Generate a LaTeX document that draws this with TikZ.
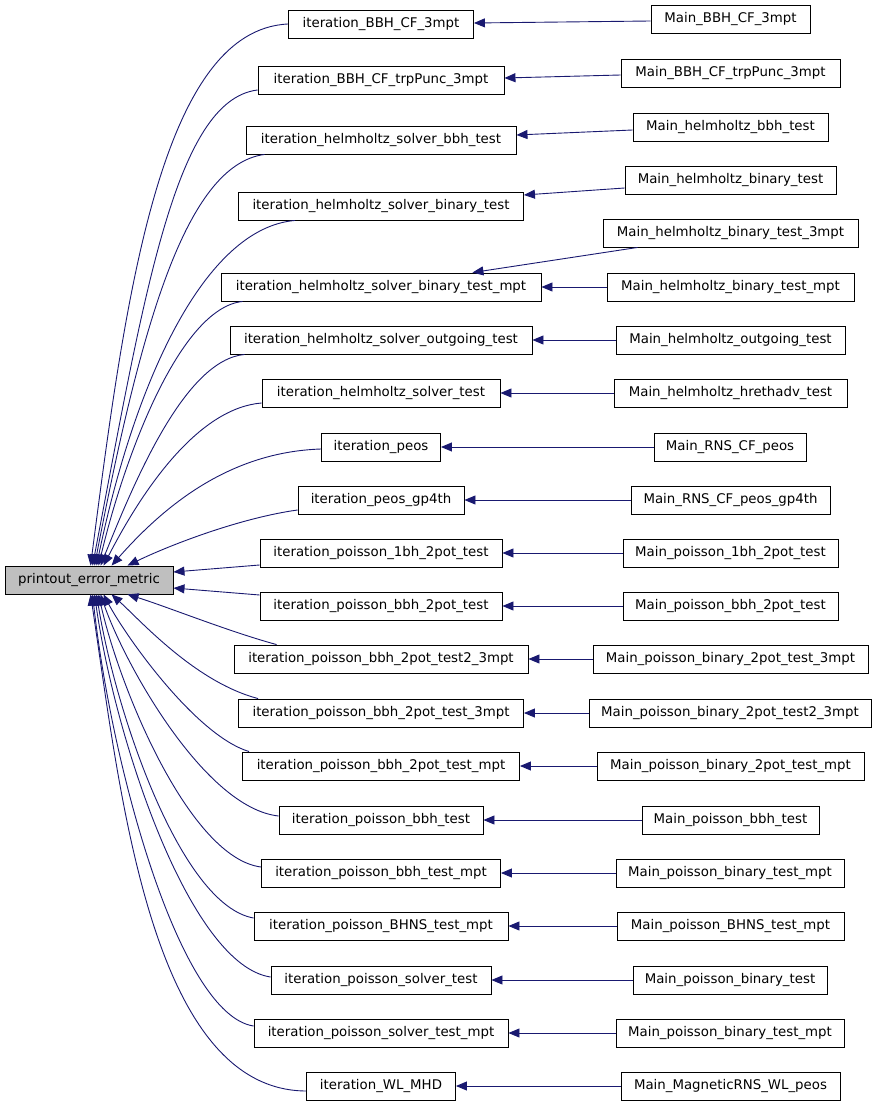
\documentclass[tikz,border=0pt]{standalone}
\usepackage{fontspec}
\setmainfont{DejaVu Sans}
\usetikzlibrary{arrows.meta}
\definecolor{edgeblue}{HTML}{191970}
\definecolor{focusgray}{HTML}{BFBFBF}
\tikzset{
  fn/.style={draw=black, line width=0.9pt, fill=white, inner sep=0pt, minimum height=28pt,
             font=\fontsize{13.33}{16}\selectfont, text=black, anchor=center},
  focus/.style={fn, fill=focusgray},
  edge/.style={draw=edgeblue, line width=0.9pt, -{Triangle[length=11pt,width=9pt]}},
}
\begin{document}
\begin{tikzpicture}[x=1pt,y=-1pt]
\useasboundingbox (0,0) rectangle (877,1107);
% focus node
\node[focus, minimum width=168pt] (p) at (89,580) {printout\_error\_metric};
% middle column
\node[fn, minimum width=185pt] (m1)  at (381,24)   {iteration\_BBH\_CF\_3mpt};
\node[fn, minimum width=246pt] (m2)  at (381,80)   {iteration\_BBH\_CF\_trpPunc\_3mpt};
\node[fn, minimum width=270pt] (m3)  at (381,140)  {iteration\_helmholtz\_solver\_bbh\_test};
\node[fn, minimum width=285pt] (m4)  at (381,206)  {iteration\_helmholtz\_solver\_binary\_test};
\node[fn, minimum width=320pt] (m5)  at (381,287)  {iteration\_helmholtz\_solver\_binary\_test\_mpt};
\node[fn, minimum width=302pt] (m6)  at (381,340)  {iteration\_helmholtz\_solver\_outgoing\_test};
\node[fn, minimum width=238pt] (m7)  at (381,393)  {iteration\_helmholtz\_solver\_test};
\node[fn, minimum width=119pt] (m8)  at (381,447)  {iteration\_peos};
\node[fn, minimum width=166pt] (m9)  at (381,500)  {iteration\_peos\_gp4th};
\node[fn, minimum width=242pt] (m10) at (381,553)  {iteration\_poisson\_1bh\_2pot\_test};
\node[fn, minimum width=242pt] (m11) at (381,606)  {iteration\_poisson\_bbh\_2pot\_test};
\node[fn, minimum width=294pt] (m12) at (381,659)  {iteration\_poisson\_bbh\_2pot\_test2\_3mpt};
\node[fn, minimum width=285pt] (m13) at (381,713)  {iteration\_poisson\_bbh\_2pot\_test\_3mpt};
\node[fn, minimum width=277pt] (m14) at (381,766)  {iteration\_poisson\_bbh\_2pot\_test\_mpt};
\node[fn, minimum width=204pt] (m15) at (381,820)  {iteration\_poisson\_bbh\_test};
\node[fn, minimum width=239pt] (m16) at (381,873)  {iteration\_poisson\_bbh\_test\_mpt};
\node[fn, minimum width=254pt] (m17) at (381,926)  {iteration\_poisson\_BHNS\_test\_mpt};
\node[fn, minimum width=220pt] (m18) at (381,980)  {iteration\_poisson\_solver\_test};
\node[fn, minimum width=254pt] (m19) at (381,1033) {iteration\_poisson\_solver\_test\_mpt};
\node[fn, minimum width=149pt] (m20) at (381,1086) {iteration\_WL\_MHD};
% right column
\node[fn, minimum width=159pt] (r1)  at (730.5,19)   {Main\_BBH\_CF\_3mpt};
\node[fn, minimum width=219pt] (r2)  at (730.5,73)   {Main\_BBH\_CF\_trpPunc\_3mpt};
\node[fn, minimum width=195pt] (r3)  at (730.5,127)  {Main\_helmholtz\_bbh\_test};
\node[fn, minimum width=211pt] (r4)  at (730.5,180)  {Main\_helmholtz\_binary\_test};
\node[fn, minimum width=255pt] (r5)  at (730.5,233)  {Main\_helmholtz\_binary\_test\_3mpt};
\node[fn, minimum width=247pt] (r6)  at (730.5,287)  {Main\_helmholtz\_binary\_test\_mpt};
\node[fn, minimum width=229pt] (r7)  at (730.5,340)  {Main\_helmholtz\_outgoing\_test};
\node[fn, minimum width=233pt] (r8)  at (730.5,393)  {Main\_helmholtz\_hrethadv\_test};
\node[fn, minimum width=152pt] (r9)  at (730,447)    {Main\_RNS\_CF\_peos};
\node[fn, minimum width=199pt] (r10) at (730.5,500)  {Main\_RNS\_CF\_peos\_gp4th};
\node[fn, minimum width=215pt] (r11) at (730.5,553)  {Main\_poisson\_1bh\_2pot\_test};
\node[fn, minimum width=215pt] (r12) at (730.5,606)  {Main\_poisson\_bbh\_2pot\_test};
\node[fn, minimum width=275pt] (r13) at (730.5,659)  {Main\_poisson\_binary\_2pot\_test\_3mpt};
\node[fn, minimum width=282pt] (r14) at (730,713)    {Main\_poisson\_binary\_2pot\_test2\_3mpt};
\node[fn, minimum width=267pt] (r15) at (730.5,766)  {Main\_poisson\_binary\_2pot\_test\_mpt};
\node[fn, minimum width=177pt] (r16) at (730.5,820)  {Main\_poisson\_bbh\_test};
\node[fn, minimum width=228pt] (r17) at (730,873)    {Main\_poisson\_binary\_test\_mpt};
\node[fn, minimum width=227pt] (r18) at (730.5,926)  {Main\_poisson\_BHNS\_test\_mpt};
\node[fn, minimum width=194pt] (r19) at (730,980)    {Main\_poisson\_binary\_test};
\node[fn, minimum width=228pt] (r20) at (730,1033)   {Main\_poisson\_binary\_test\_mpt};
\node[fn, minimum width=219pt] (r21) at (730.5,1086) {Main\_MagneticRNS\_WL\_peos};
% right edges
\draw[edge] ([yshift=-2pt]r1.west) -- ([yshift=1pt]m1.east);
\draw[edge] ([yshift=-2pt]r2.west) -- ([yshift=2pt]m2.east);
\draw[edge] ([yshift=-3pt]r3.west) -- ([yshift=5pt]m3.east);
\draw[edge] ([yshift=-8pt]r4.west) -- ([yshift=11pt]m4.east);
\draw[edge] ([xshift=35pt]r5.south west) -- ([xshift=-69pt]m5.north east);
\draw[edge] (r6) -- (m5);
\draw[edge] (r7) -- (m6);
\draw[edge] (r8) -- (m7);
\draw[edge] (r9) -- (m8);
\draw[edge] (r10) -- (m9);
\draw[edge] (r11) -- (m10);
\draw[edge] (r12) -- (m11);
\draw[edge] (r13) -- (m12);
\draw[edge] (r14) -- (m13);
\draw[edge] (r15) -- (m14);
\draw[edge] (r16) -- (m15);
\draw[edge] (r17) -- (m16);
\draw[edge] (r18) -- (m17);
\draw[edge] (r19) -- (m18);
\draw[edge] (r20) -- (m19);
\draw[edge] (r21) -- (m20);
% left edges, upper group
\draw[edge] (m1.west) .. controls (160,30) and (125,300) .. ([xshift=86pt]p.north west);
\draw[edge] ([yshift=-10pt]m2.west) .. controls (175,100) and (144,296) .. ([xshift=88pt]p.north west);
\draw[edge] ([xshift=19pt]m3.south west) .. controls (185,165) and (140,330) .. ([xshift=90pt]p.north west);
\draw[edge] ([xshift=57pt]m4.south west) .. controls (205,228) and (135,380) .. ([xshift=92pt]p.north west);
\draw[edge] ([xshift=22pt]m5.south west) .. controls (180,308) and (125,455) .. ([xshift=94pt]p.north west);
\draw[edge] ([xshift=15pt]m6.south west) .. controls (185,360) and (135,480) .. ([xshift=96pt]p.north west);
\draw[edge] ([yshift=-10pt]m7.west) .. controls (200,408) and (145,485) .. ([xshift=99pt]p.north west);
\draw[edge] ([yshift=-2pt]m8.west) .. controls (230,452) and (165,505) .. ([xshift=107pt]p.north west);
\draw[edge] ([yshift=-10pt]m9.west) .. controls (240,518) and (170,545) .. ([xshift=123pt]p.north west);
% side edges
\draw[edge] ([yshift=-12pt]m10.west) -- ([yshift=8pt]p.east);
\draw[edge] ([yshift=11pt]m11.west) -- ([yshift=-8pt]p.east);
% left edges, lower group
\draw[edge] ([xshift=43pt]m12.north west) .. controls (230,632) and (165,606) .. ([xshift=123pt]p.south west);
\draw[edge] ([xshift=20pt]m13.north west) .. controls (195,682) and (140,620) .. ([xshift=107pt]p.south west);
\draw[edge] ([xshift=7pt]m14.north west) .. controls (195,735) and (125,635) .. ([xshift=99pt]p.south west);
\draw[edge] ([yshift=4pt]m15.west) .. controls (205,808) and (125,665) .. ([xshift=96pt]p.south west);
\draw[edge] ([yshift=6pt]m16.west) .. controls (190,858) and (120,690) .. ([xshift=94pt]p.south west);
\draw[edge] ([yshift=8pt]m17.west) .. controls (180,905) and (115,710) .. ([xshift=92pt]p.south west);
\draw[edge] ([yshift=3pt]m18.west) .. controls (190,965) and (115,740) .. ([xshift=90pt]p.south west);
\draw[edge] ([yshift=7pt]m19.west) .. controls (180,1015) and (112,770) .. ([xshift=88pt]p.south west);
\draw[edge] ([yshift=-5pt]m20.west) .. controls (150,1090) and (120,790) .. ([xshift=86pt]p.south west);
\end{tikzpicture}
\end{document}
